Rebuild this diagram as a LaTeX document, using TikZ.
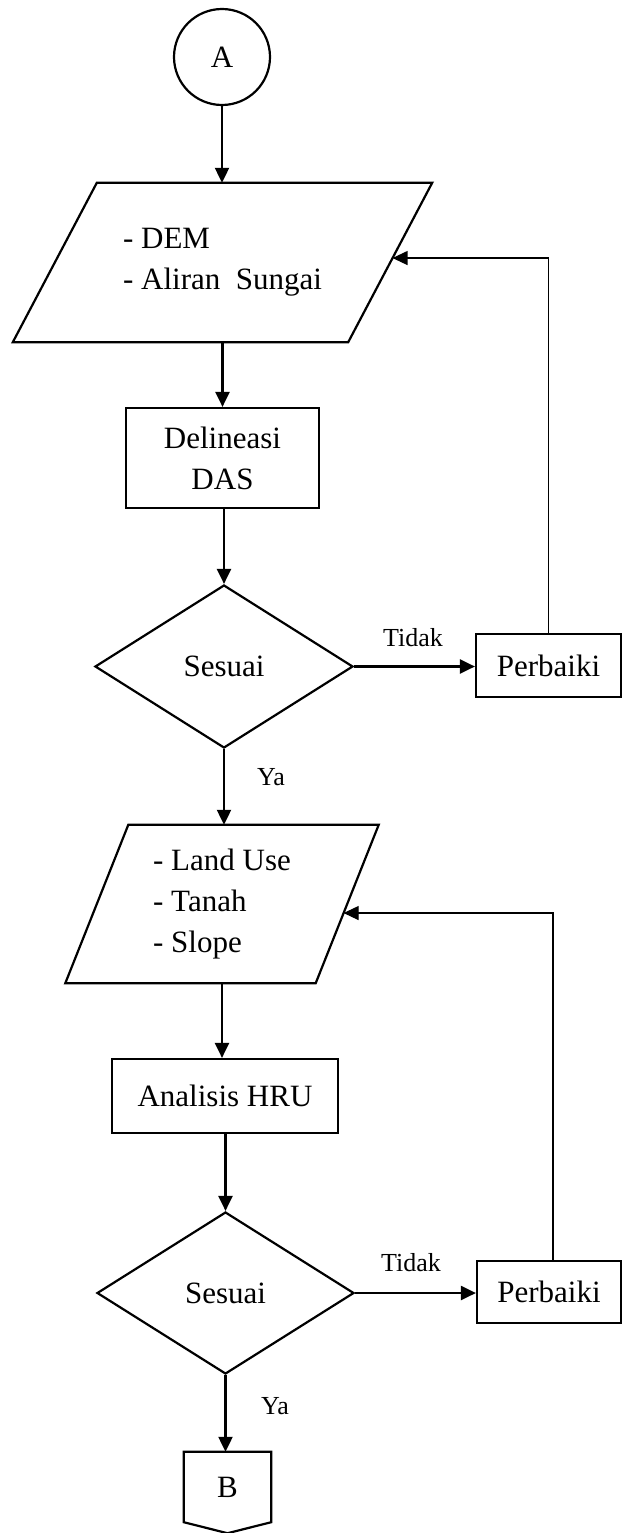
\documentclass[tikz,border=0pt]{standalone}
\usepackage{fontspec}
\setmainfont{Liberation Serif}
\usetikzlibrary{shapes.geometric,arrows.meta,calc}
\begin{document}
\begin{tikzpicture}[x=1pt,y=-1pt,
  ln/.style={line width=2.2pt,line join=miter},
  arr/.style={line width=2.2pt,-{Triangle[length=15pt,width=14pt]}},
  fb/.style={line width=1.2pt,-{Triangle[length=15pt,width=14pt]}},
  big/.style={font=\fontsize{31}{41}\selectfont},
  small/.style={font=\fontsize{26}{30}\selectfont},
  box/.style={draw,line width=2.2pt,big,inner sep=0pt,align=center},
  paratext/.style={big,align=left,inner sep=0pt},
  dec/.style={diamond,draw,line width=2.2pt,big,inner sep=0pt},
]
\useasboundingbox (0,0) rectangle (623,1533);

\node[circle,draw,line width=2.2pt,minimum size=96pt,inner sep=0pt,big] (A) at (222,57) {A};

% input 1 (parallelogram drawn from the node's corners)
\node[paratext,minimum width=335pt,minimum height=159pt] (p1) at (222.5,262.5) {- DEM\\- Aliran\hspace{0.5em}Sungai};
\draw[ln] ([xshift=42pt]p1.north west) -- ([xshift=42pt]p1.north east) -- ([xshift=-42pt]p1.south east) -- ([xshift=-42pt]p1.south west) -- cycle;

\node[box,minimum width=193pt,minimum height=100pt] (box1) at (222.5,458) {Delineasi\\DAS};

\node[dec,minimum width=258pt,minimum height=163pt] (d1) at (224,666.5) {Sesuai};

\node[box,minimum width=145pt,minimum height=63pt] (per1) at (548.5,665.5) {Perbaiki};

\node[small] (t1) at (413,638) {Tidak};
\node[small] (y1) at (271,777) {Ya};

% input 2
\node[paratext,minimum width=250pt,minimum height=158pt] (p2) at (222,904) {- Land Use\\- Tanah\\- Slope};
\draw[ln] ([xshift=31.5pt]p2.north west) -- ([xshift=31.5pt]p2.north east) -- ([xshift=-31.5pt]p2.south east) -- ([xshift=-31.5pt]p2.south west) -- cycle;

\node[box,minimum width=226pt,minimum height=74pt] (box2) at (225,1096) {Analisis HRU};

\node[dec,minimum width=257pt,minimum height=162pt] (d2) at (225.5,1293) {Sesuai};

\node[box,minimum width=144pt,minimum height=62pt] (per2) at (549,1292) {Perbaiki};

\node[small] (t2) at (411,1263) {Tidak};
\node[small] (y2) at (275,1406) {Ya};

\node[big,minimum width=87pt,minimum height=70pt,inner sep=0pt] (B) at (227.5,1487) {B};
\draw[ln] (B.north west) -- (B.north east) -- (B.south east) -- ($(B.south)+(0,11)$) -- (B.south west) -- cycle;

\coordinate (fb1) at ($([xshift=42pt]p1.north east)!0.472!([xshift=-42pt]p1.south east)$);
\coordinate (fb2) at ($([xshift=31.5pt]p2.north east)!0.557!([xshift=-31.5pt]p2.south east)$);

\draw[arr] (A.south) -- (A.south |- p1.north);
\draw[arr] (p1.south) -- (p1.south |- box1.north);
\draw[arr] (d1.north |- box1.south) -- (d1.north);
\draw[arr] (d1.east) -- (d1.east -| per1.west);
\draw[fb] (per1.north) |- (fb1);
\draw[arr] (d1.south) -- (d1.south |- p2.north);
\draw[arr] (p2.south) -- (p2.south |- box2.north);
\draw[arr] (d2.north |- box2.south) -- (d2.north);
\draw[arr] (d2.east) -- (d2.east -| per2.west);
\draw[fb] ([xshift=4pt]per2.north) |- (fb2);
\draw[arr] (d2.south) -- (d2.south |- B.north);
\end{tikzpicture}
\end{document}
